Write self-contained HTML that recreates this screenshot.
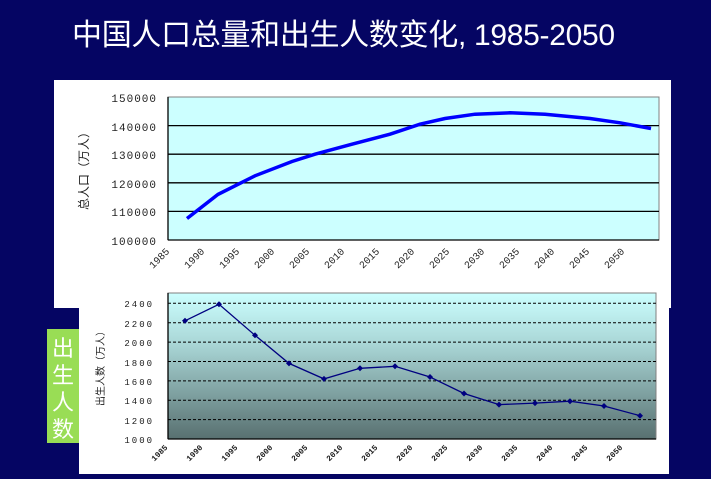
<!DOCTYPE html>
<html><head><meta charset="utf-8"><style>
body{margin:0;background:#050563;}
svg{display:block}
</style></head><body>
<svg width="711" height="479" viewBox="0 0 711 479" xmlns="http://www.w3.org/2000/svg" font-family="Liberation Sans, Noto Sans CJK SC, sans-serif">
<defs>
<linearGradient id="g" x1="0" y1="0" x2="0" y2="1">
<stop offset="0" stop-color="#ccffff"/>
<stop offset="0.35" stop-color="#a9d6d6"/>
<stop offset="1" stop-color="#587070"/>
</linearGradient>
</defs>
<rect width="711" height="479" fill="#050563"/>
<text x="72" y="45" fill="#fff" font-size="30" textLength="543" font-family="Liberation Sans, Noto Sans CJK SC, sans-serif">中国人口总量和出生人数变化, 1985-2050</text>
<!-- panels -->
<rect x="79" y="300" width="590" height="174" fill="#fff"/>
<rect x="54" y="80" width="617" height="228" fill="#fff"/>
<!-- top plot -->
<rect x="168" y="97" width="491" height="143" fill="#ccffff" stroke="#808080"/>
<g stroke="#000" stroke-width="1.3">
<line x1="168" y1="125.6" x2="659" y2="125.6"/>
<line x1="168" y1="154.2" x2="659" y2="154.2"/>
<line x1="168" y1="182.8" x2="659" y2="182.8"/>
<line x1="168" y1="211.4" x2="659" y2="211.4"/>
<line x1="168" y1="97" x2="168" y2="240"/>
<line x1="168" y1="240" x2="659" y2="240"/>
</g>
<g font-size="11" fill="#222" text-anchor="end" font-family="Liberation Mono, monospace" letter-spacing="1">
<text x="157" y="102">150000</text><text x="157" y="131">140000</text><text x="157" y="159">130000</text>
<text x="157" y="188">120000</text><text x="157" y="216">110000</text><text x="157" y="245">100000</text>
</g>
<text transform="translate(88,168) rotate(-90)" font-size="12" text-anchor="middle" fill="#222">总人口（万人）</text>
<polyline fill="none" stroke="#0000ff" stroke-width="3.5" points="187,218.5 218,194.4 255,175.8 292,161.5 315,154.2 352,144.2 390,134.2 420,124.2 445,118.5 475,114.2 510,112.8 545,114.2 590,118.5 620,122.8 651,128.5"/>
<g font-size="10" fill="#222" text-anchor="end" font-family="Liberation Mono, monospace">
<text transform="translate(170,252) rotate(-45)">1985</text>
<text transform="translate(205,252) rotate(-45)">1990</text>
<text transform="translate(240,252) rotate(-45)">1995</text>
<text transform="translate(275,252) rotate(-45)">2000</text>
<text transform="translate(310,252) rotate(-45)">2005</text>
<text transform="translate(345,252) rotate(-45)">2010</text>
<text transform="translate(380,252) rotate(-45)">2015</text>
<text transform="translate(415,252) rotate(-45)">2020</text>
<text transform="translate(450,252) rotate(-45)">2025</text>
<text transform="translate(485,252) rotate(-45)">2030</text>
<text transform="translate(520,252) rotate(-45)">2035</text>
<text transform="translate(555,252) rotate(-45)">2040</text>
<text transform="translate(590,252) rotate(-45)">2045</text>
<text transform="translate(625,252) rotate(-45)">2050</text>
</g>
<!-- bottom plot -->
<rect x="168" y="293" width="488" height="146" fill="url(#g)" stroke="#808080"/>
<g stroke="#000" stroke-width="1" stroke-dasharray="3,2">
<line x1="168" y1="303.3" x2="656" y2="303.3"/>
<line x1="168" y1="322.7" x2="656" y2="322.7"/>
<line x1="168" y1="342.1" x2="656" y2="342.1"/>
<line x1="168" y1="361.5" x2="656" y2="361.5"/>
<line x1="168" y1="380.9" x2="656" y2="380.9"/>
<line x1="168" y1="400.2" x2="656" y2="400.2"/>
<line x1="168" y1="419.6" x2="656" y2="419.6"/>
</g>
<g stroke="#000" stroke-width="1.3"><line x1="168" y1="293" x2="168" y2="439"/><line x1="168" y1="439" x2="656" y2="439"/></g>
<g font-size="9" fill="#222" text-anchor="end" font-family="Liberation Mono, monospace" letter-spacing="2">
<text x="154" y="307">2400</text><text x="154" y="327">2200</text><text x="154" y="346">2000</text>
<text x="154" y="366">1800</text><text x="154" y="385">1600</text><text x="154" y="404">1400</text>
<text x="154" y="424">1200</text><text x="154" y="443">1000</text>
</g>
<text transform="translate(104,366) rotate(-90)" font-size="10" text-anchor="middle" fill="#222">出生人数（万人）</text>
<polyline fill="none" stroke="#000080" stroke-width="1.3" points="185,320.8 219,304.3 255,335.3 289,363.4 324,378.9 360,368.3 395,366.3 430,377 464,393.5 499,404.6 535,403.1 570,401.2 604,406 640,415.7"/>
<g fill="#000080">
<path d="M185,317.8l3,3l-3,3l-3,-3z"/><path d="M219,301.3l3,3l-3,3l-3,-3z"/><path d="M255,332.3l3,3l-3,3l-3,-3z"/>
<path d="M289,360.4l3,3l-3,3l-3,-3z"/><path d="M324,375.9l3,3l-3,3l-3,-3z"/><path d="M360,365.3l3,3l-3,3l-3,-3z"/>
<path d="M395,363.3l3,3l-3,3l-3,-3z"/><path d="M430,374l3,3l-3,3l-3,-3z"/><path d="M464,390.5l3,3l-3,3l-3,-3z"/>
<path d="M499,401.6l3,3l-3,3l-3,-3z"/><path d="M535,400.1l3,3l-3,3l-3,-3z"/><path d="M570,398.2l3,3l-3,3l-3,-3z"/>
<path d="M604,403l3,3l-3,3l-3,-3z"/><path d="M640,412.7l3,3l-3,3l-3,-3z"/>
</g>
<g font-size="8" fill="#222" text-anchor="end" font-family="Liberation Mono, monospace" font-weight="bold">
<text transform="translate(168,448) rotate(-45)">1985</text>
<text transform="translate(203,448) rotate(-45)">1990</text>
<text transform="translate(238,448) rotate(-45)">1995</text>
<text transform="translate(273,448) rotate(-45)">2000</text>
<text transform="translate(308,448) rotate(-45)">2005</text>
<text transform="translate(343,448) rotate(-45)">2010</text>
<text transform="translate(378,448) rotate(-45)">2015</text>
<text transform="translate(413,448) rotate(-45)">2020</text>
<text transform="translate(448,448) rotate(-45)">2025</text>
<text transform="translate(483,448) rotate(-45)">2030</text>
<text transform="translate(518,448) rotate(-45)">2035</text>
<text transform="translate(553,448) rotate(-45)">2040</text>
<text transform="translate(588,448) rotate(-45)">2045</text>
<text transform="translate(623,448) rotate(-45)">2050</text>
</g>
<!-- green label -->
<rect x="47" y="329" width="32" height="114" fill="#99dd55"/>
<g fill="#fff" font-size="22" text-anchor="middle" font-family="Noto Sans CJK SC, sans-serif">
<text x="63" y="356">出</text><text x="63" y="383">生</text><text x="63" y="410">人</text><text x="63" y="437">数</text>
</g>
</svg>
</body></html>
